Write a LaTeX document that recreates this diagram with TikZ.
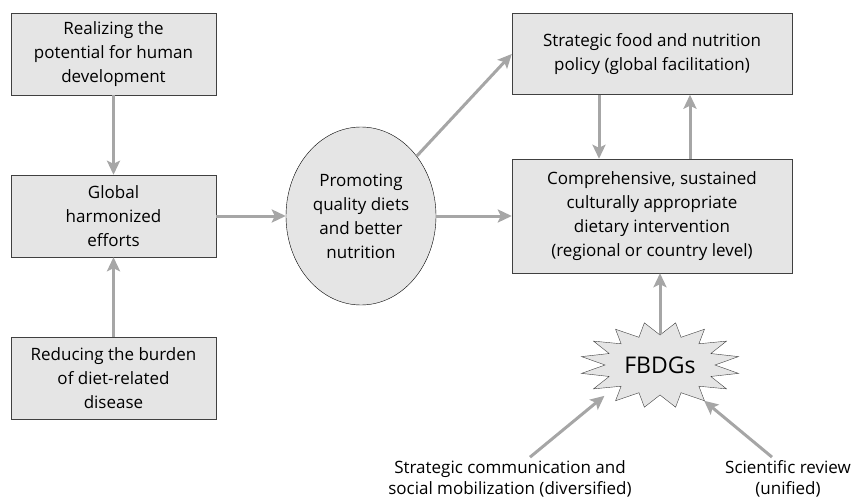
\documentclass[tikz,border=0pt]{standalone}
\usepackage{fontspec}
\setmainfont{Open Sans}
\usetikzlibrary{positioning, shapes.geometric, arrows.meta}

\begin{document}
\begin{tikzpicture}[x=1pt, y=-1pt,
    box/.style={draw=black!75, fill=black!10, minimum width=205pt, minimum height=82pt,
        align=center, font=\fontsize{17}{24}\selectfont},
    flow/.style={draw=black!35, line width=3pt, -{Stealth[length=14pt,width=13pt,inset=3pt]}},
    label/.style={align=center, font=\fontsize{17}{21}\selectfont},
  ]
    \useasboundingbox (0,0) rectangle (854,500);
    % left column
    \node[box] (realize) at (113.5,54) {Realizing the\\potential for human\\development};
    \node[box] (global) at (113.5,216) {Global\\harmonized\\efforts};
    \node[box] (reduce) at (113.5,378) {Reducing the burden\\of diet-related\\disease};
    % centre
    \node[ellipse, draw=black, fill=black!10, minimum width=150pt, minimum height=178pt,
        align=center, font=\fontsize{17}{24}\selectfont] (promote) at (361,216)
        {Promoting\\quality diets\\and better\\nutrition};
    % right column
    \node[box, minimum width=280pt, minimum height=81pt] (policy) at (652,54)
        {Strategic food and nutrition\\policy (global facilitation)};
    \node[box, minimum width=280pt, minimum height=114pt] (interv) at (652,216)
        {Comprehensive, sustained\\culturally appropriate\\dietary intervention\\(regional or country level)};
    % the star, 16 points
    \filldraw[draw=black!75, fill=black!10, shift={(660,365)}]
        plot[samples at={0,...,31}, variable=\k]
        ({cos(\k*11.25)*(55+25*mod(\k,2))}, {sin(\k*11.25)*(30+13*mod(\k,2))}) -- cycle;
    \node[ellipse, minimum width=160pt, minimum height=85pt,
        font=\fontsize{23}{24}\selectfont] (fbdg) at (660,365) {FBDGs};
    \node[label] (comm) at (510,479) {Strategic communication and\\social mobilization (diversified)};
    \node[label] (review) at (788,479) {Scientific review\\(unified)};

    \draw[flow] (realize) -- (global);
    \draw[flow] (reduce) -- (global);
    \draw[flow] (global) -- (promote);
    \draw[flow] (promote) -- (policy.west);
    \draw[flow] (promote) -- (interv);
    \draw[flow] ([xshift=-53pt]policy.south) -- ([xshift=-53pt]interv.north);
    \draw[flow] ([xshift=38pt]interv.north) -- ([xshift=38pt]policy.south);
    \draw[flow] ([yshift=-12pt]fbdg.north) -- (fbdg.north |- interv.south);
    \draw[flow] ([xshift=20pt]comm.north) -- (fbdg.209);
    \draw[flow] ([xshift=-16pt]review.north) -- (fbdg.-39);
\end{tikzpicture}
\end{document}
